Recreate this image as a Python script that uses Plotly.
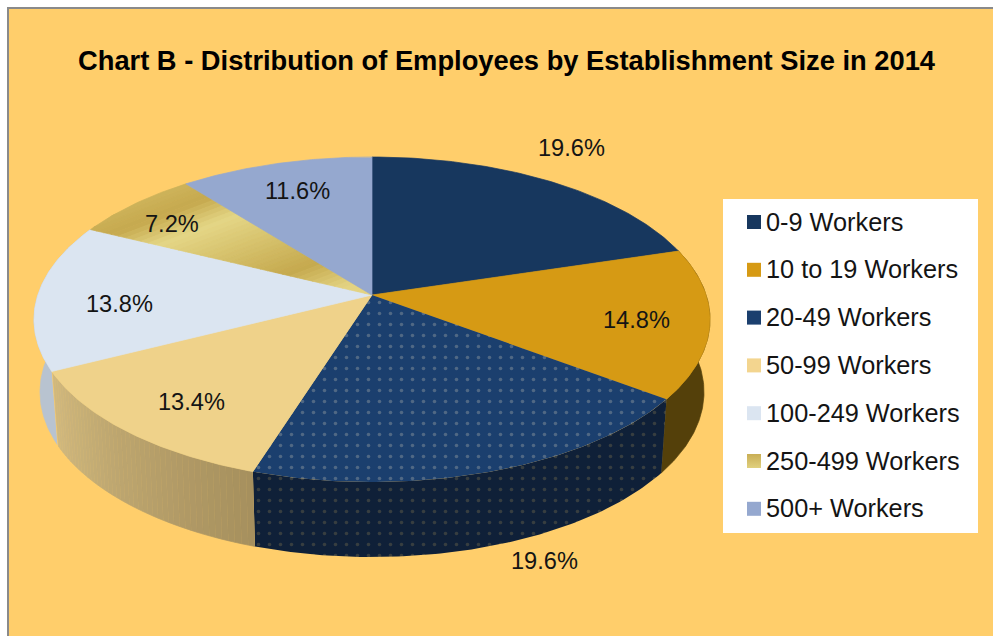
import numpy as np
import plotly.graph_objects as go

# ---- data ----
categories = ["0-9 Workers", "10 to 19 Workers", "20-49 Workers", "50-99 Workers",
              "100-249 Workers", "250-499 Workers", "500+ Workers"]
shares = [19.6, 14.8, 19.6, 13.4, 13.8, 7.2, 11.6]
labels = ["19.6%", "14.8%", "19.6%", "13.4%", "13.8%", "7.2%", "11.6%"]
title = "Chart B - Distribution of Employees by Establishment Size in 2014"

# ---- styles ----
top_colors = ["#17375E", "#D69A14", "#1B3F6E", "#EFD28A", "#DBE5F1", "#C9AE55", "#95A8CF"]
side_colors = ["#0F2038", "#54400A", "#0F2038", "#B9A06C", "#B8C3D0", "#8A7A3A", "#6C7A96"]
BG = "#FFCE6B"
TEXT = "#141414"

# ---- view of the pie (perspective seen from above) ----
APEX = (372.0, 295.0)
TOP = dict(cx=372.0, cy=319.5, rx=338.0, ry=162.5)
BOTTOM = dict(cx=372.0, cy=392.0, rx=332.0, ry=165.0)
MOEBIUS = 0.85
label_xy = [(571, 148), (636, 320), (544, 561), (191, 402), (119, 304), (172, 224), (297, 191)]
LEGEND = dict(x0=723, y0=199, x1=978, y1=533, sw_x=754, text_x=763.5, first=222, step=47.8)


def view_angle(theta):
    """Clockwise pie angle (deg) to the angle on the foreshortened rim."""
    raw = np.asarray(theta, float)
    t = np.radians(raw)
    half = np.mod(t / 2, np.pi)
    phi = 2 * np.arctan2(MOEBIUS * np.sin(half), np.cos(half))
    return (np.mod(np.degrees(phi), 360) + 3.8 * np.abs(np.sin(t / 2)) ** 0.4
            - 3.4 * np.exp(-((raw - 243.0) / 24.0) ** 2))


def rim(theta, e):
    p = np.radians(view_angle(theta))
    return e["cx"] + e["rx"] * np.sin(p), e["cy"] - e["ry"] * np.cos(p)


edges = np.cumsum([0] + shares) / sum(shares) * 360.0
fig = go.Figure()


def poly(x, y, color, pattern=None):
    tr = dict(x=list(x), y=list(y), mode="lines", fill="toself", fillcolor=color,
              line=dict(color=color, width=0.7 if pattern is None else 0),
              hoverinfo="skip", showlegend=False)
    if pattern:
        tr["fillpattern"] = pattern
    fig.add_trace(go.Scatter(**tr))


def mix(a, b, f):
    ca = [int(a[i:i + 2], 16) for i in (1, 3, 5)]
    cb = [int(b[i:i + 2], 16) for i in (1, 3, 5)]
    return "rgb(%d,%d,%d)" % tuple(round(u + (v - u) * f) for u, v in zip(ca, cb))


def clip(pts, a, lo, hi):
    """Keep the part of a convex polygon where lo <= y + a*x <= hi."""
    def half(pts, f):
        out = []
        for i in range(len(pts)):
            p, q = pts[i], pts[(i + 1) % len(pts)]
            fp, fq = f(p), f(q)
            if fp >= 0:
                out.append(p)
            if fp * fq < 0:
                s = fp / (fp - fq)
                out.append((p[0] + s * (q[0] - p[0]), p[1] + s * (q[1] - p[1])))
        return out
    pts = half(pts, lambda p: p[1] + a * p[0] - lo)
    return half(pts, lambda p: hi - p[1] - a * p[0]) if pts else pts


dots_top = dict(shape=".", bgcolor=top_colors[2], fgcolor="#86929A", size=11, solidity=0.08)
dots_side = dict(shape=".", bgcolor=side_colors[2], fgcolor="#5F5B48", size=11, solidity=0.08)

# walls, back to front
for i in [4, 1, 2, 3]:
    th = np.linspace(edges[i], edges[i + 1], 90)
    xt, yt = rim(th, TOP)
    xb, yb = rim(th, BOTTOM)
    if i == 3:  # shaded wall
        n = 44
        for k in range(n):
            a, b = k * 2, k * 2 + 3
            poly(np.r_[xt[a:b], xb[a:b][::-1]], np.r_[yt[a:b], yb[a:b][::-1]],
                 mix("#A6905E", "#D0B87E", k / (n - 1)))
    elif i == 2:
        poly(np.r_[xt, xb[::-1]], np.r_[yt, yb[::-1]], side_colors[i], dots_side)
    else:
        poly(np.r_[xt, xb[::-1]], np.r_[yt, yb[::-1]], side_colors[i])

# top faces
band_stops = [(0.0, "#CDB35A"), (0.13, "#C5A94E"), (0.28, "#E4D686"), (0.71, "#C5A94E"),
              (0.90, "#E3D382"), (1.0, "#E3D382")]
for i in range(len(shares)):
    th = np.linspace(edges[i], edges[i + 1], 90)
    xt, yt = rim(th, TOP)
    x = np.r_[APEX[0], xt, APEX[0]]
    y = np.r_[APEX[1], yt, APEX[1]]
    if i == 2:
        poly(x, y, top_colors[i], dots_top)
    elif i == 5:
        a = 0.38
        pts = list(zip(x[:-1], y[:-1]))
        t = [p[1] + a * p[0] for p in pts]
        lo, hi = min(t), max(t)
        n = 40
        bounds = np.linspace(lo, hi, n + 1)
        fr = [s[0] for s in band_stops]
        for k in range(n):
            f = (k + 0.5) / n
            j = max(1, min(np.searchsorted(fr, f), len(fr) - 1))
            col = mix(band_stops[j - 1][1], band_stops[j][1], (f - fr[j - 1]) / (fr[j] - fr[j - 1]))
            part = clip(pts, a, bounds[k], bounds[k + 1])
            if len(part) > 2:
                px, py = zip(*part)
                poly(list(px) + [px[0]], list(py) + [py[0]], col)
    else:
        poly(x, y, top_colors[i])

# page margin, frame, legend box and entries
shapes = [
    dict(type="rect", xref="x", yref="y", x0=0, x1=993, y0=0, y1=636, fillcolor="white", line_width=0, layer="below"),
    dict(type="rect", xref="x", yref="y", x0=8, x1=1000, y0=8, y1=650, fillcolor=BG,
         line=dict(color="#8A8A8A", width=2), layer="below"),
    dict(type="rect", xref="x", yref="y", x0=LEGEND["x0"], x1=LEGEND["x1"], y0=LEGEND["y0"], y1=LEGEND["y1"],
         fillcolor="white", line_width=0, layer="between"),
]
annotations = [dict(x=507, y=60, xref="x", yref="y", text="<b>%s</b>" % title, showarrow=False,
                    font=dict(family="Liberation Sans", size=27.3, color="#000000"))]
for (lx, ly), t in zip(label_xy, labels):
    annotations.append(dict(x=lx, y=ly, xref="x", yref="y", text=t, showarrow=False,
                            font=dict(family="Liberation Sans", size=23.6, color=TEXT)))

legend_colors = ["#17375E", "#D69A14", "#1B3F6E", "#F3D58F", "#DBE5F1", "#C9AE55", "#95A8CF"]
for i, name in enumerate(categories):
    row = LEGEND["first"] + i * LEGEND["step"]
    marker = dict(symbol="square", size=14, color=legend_colors[i], line_width=0)
    if i == 5:
        marker["gradient"] = dict(type="vertical", color="#E0D07E")
    fig.add_trace(go.Scatter(x=[LEGEND["sw_x"]], y=[row], mode="markers", marker=marker,
                             name=name, hoverinfo="name", showlegend=False))
    annotations.append(dict(x=LEGEND["text_x"], y=row - 0.5, xref="x", yref="y", text=name, showarrow=False,
                            xanchor="left", font=dict(family="Liberation Sans", size=25.3, color=TEXT)))

fig.update_layout(
    width=993, height=636, margin=dict(l=0, r=0, t=0, b=0, pad=0),
    paper_bgcolor="white", plot_bgcolor="white", showlegend=False,
    xaxis=dict(range=[0, 993], visible=False, fixedrange=True),
    yaxis=dict(range=[636, 0], visible=False, fixedrange=True),
    shapes=shapes, annotations=annotations)
# Fill the window edge to edge, so the axes run in window pixels.
fig.write_html("out.html", config=dict(displayModeBar=False),
               post_script="document.body.style.margin='0';document.documentElement.style.overflow='hidden';")
